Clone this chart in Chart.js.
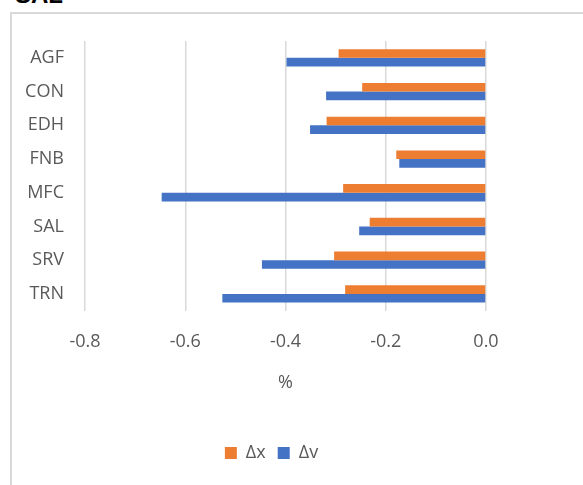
<!DOCTYPE html>
<html>
<head>
<meta charset="utf-8">
<script src="https://cdn.jsdelivr.net/npm/chart.js@4/dist/chart.umd.min.js"></script>
<style>
  html, body { margin: 0; padding: 0; background: #fff; overflow: hidden; }
  body { width: 583px; height: 485px; position: relative; }
  #heading {
    position: absolute; left: 15px; top: -17px;
    font: bold 24px "Liberation Sans", Arial, sans-serif; line-height: 24px; color: #000;
  }
  #frame {
    position: absolute; left: 10px; top: 12px; width: 700px; height: 600px;
    border: 2px solid #d9d9d9; box-sizing: border-box;
  }
  #chart { position: absolute; left: 0; top: 0; }
</style>
</head>
<body>
<div id="heading">SAL</div>
<div id="frame"><canvas id="chart" width="519" height="471"></canvas></div>
<script>
// Relative changes per entity, in %
const entities = ['AGF', 'CON', 'EDH', 'FNB', 'MFC', 'SAL', 'SRV', 'TRN'];
const deltaX = [-0.294, -0.247, -0.318, -0.179, -0.285, -0.232, -0.303, -0.281];
const deltaV = [-0.398, -0.319, -0.351, -0.173, -0.647, -0.253, -0.447, -0.526];
const xTickLabels = ['-0.8', '-0.6', '-0.4', '-0.2', '0.0'];

const textColor = '#595959';
const fontFamily = '"Open Sans", "Noto Sans", sans-serif';

new Chart(document.getElementById('chart'), {
  type: 'bar',
  data: {
    labels: entities,
    datasets: [
      { label: 'Δx', data: deltaX, backgroundColor: '#ED7D31' },
      { label: 'Δv', data: deltaV, backgroundColor: '#4472C4' }
    ]
  },
  options: {
    indexAxis: 'y',
    responsive: false,
    animation: false,
    devicePixelRatio: 1,
    datasets: { bar: { categoryPercentage: 0.513, barPercentage: 1.0 } },
    layout: { padding: { top: 27, left: 0, right: 0, bottom: 13 } },
    scales: {
      x: {
        min: -0.8, max: 0,
        ticks: {
          stepSize: 0.2,
          padding: 20,
          color: textColor,
          font: { family: fontFamily, size: 18 },
          callback: (v, i) => xTickLabels[i]
        },
        grid: { color: '#d9d9d9', lineWidth: 1.5, drawTicks: false },
        border: { display: false },
        title: {
          display: true, text: '%', color: textColor,
          font: { family: fontFamily, size: 18 },
          padding: { top: 0, bottom: 38 }
        }
      },
      y: {
        grid: { display: false, drawTicks: false },
        border: { display: false },
        ticks: {
          padding: 21,
          color: textColor,
          font: { family: fontFamily, size: 18 }
        },
        afterFit: (scale) => {
          scale.width = 73;
          scale.paddingTop = 0;
          scale.paddingBottom = 0;
        }
      },
      // empty spacer on the right so the plot ends at 0.0 while the legend stays centred
      spacer: {
        type: 'category',
        position: 'right',
        grid: { display: false, drawTicks: false },
        border: { display: false },
        ticks: { display: false },
        afterFit: (scale) => {
          scale.width = 45;
          scale.paddingTop = 0;
          scale.paddingBottom = 0;
        }
      }
    },
    plugins: {
      legend: {
        position: 'bottom',
        labels: {
          boxWidth: 12, boxHeight: 12, padding: 12,
          color: textColor,
          font: { family: fontFamily, size: 18 }
        }
      },
      tooltip: { enabled: false }
    }
  }
});
</script>
</body>
</html>
